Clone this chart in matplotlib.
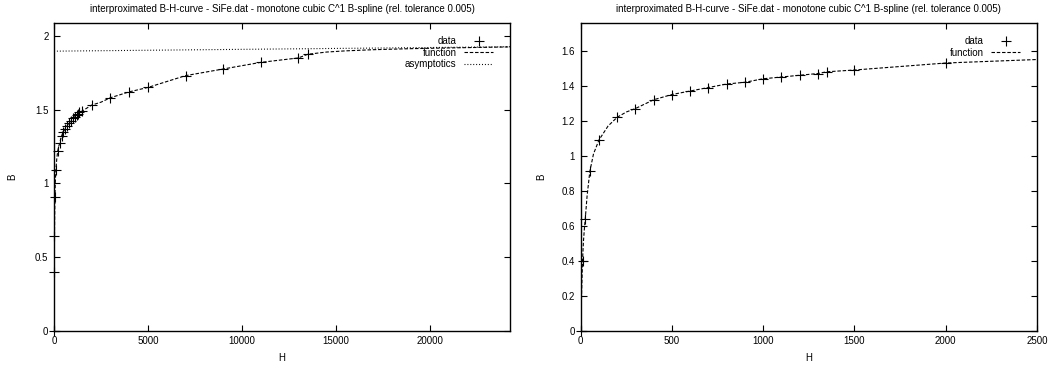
import numpy as np
import matplotlib
matplotlib.use('Agg')
import matplotlib.pyplot as plt

plt.rcParams['font.family'] = ['Liberation Sans', 'DejaVu Sans']
plt.rcParams['font.size'] = 7
plt.rcParams['lines.scale_dashes'] = False

# measured data points
H_data = [0, 10, 25, 50, 100, 200, 300, 400, 500, 600, 700, 800, 900, 1000,
          1100, 1200, 1300, 1350, 1500, 2000, 3000, 4000, 5000, 7000, 9000,
          11000, 13000, 13500]
B_data = [0.0, 0.40, 0.64, 0.91, 1.09, 1.22, 1.27, 1.32, 1.35, 1.37, 1.39, 1.41,
          1.42, 1.44, 1.45, 1.46, 1.47, 1.48, 1.49, 1.53, 1.58, 1.62, 1.65, 1.73,
          1.775, 1.82, 1.85, 1.875]

# spline curve, values
H_fun = [0, 3, 6, 10, 15, 20, 25, 35, 50, 70, 100, 150, 200, 250, 300, 400, 500,
         600, 700, 800, 900, 1000, 1100, 1200, 1300, 1350, 1500, 1750, 2000, 2250,
         2500, 3000, 4000, 5000, 7000, 9000, 11000, 13000, 13500, 14500, 15500,
         17000, 19000, 21000, 24300]
B_fun = [0.0, 0.13, 0.26, 0.40, 0.51, 0.58, 0.64, 0.77, 0.91, 1.01, 1.09, 1.17,
         1.22, 1.25, 1.27, 1.32, 1.35, 1.37, 1.39, 1.41, 1.42, 1.44, 1.45, 1.46,
         1.47, 1.48, 1.49, 1.51, 1.53, 1.54, 1.55, 1.58, 1.62, 1.65, 1.73, 1.775,
         1.82, 1.85, 1.875, 1.89, 1.898, 1.906, 1.913, 1.918, 1.925]

# asymptote line
H_asy = [0, 24300]
B_asy = [1.896, 1.926]

title = 'interproximated B-H-curve - SiFe.dat - monotone cubic C^1 B-spline (rel. tolerance 0.005)'

fig = plt.figure(figsize=(10.52, 3.69), dpi=100)
W, Ht = 1052, 369
ax1 = fig.add_axes([54 / W, (Ht - 330.7) / Ht, 456 / W, 307.4 / Ht])
ax2 = fig.add_axes([580.7 / W, (Ht - 330.7) / Ht, 456.3 / W, 307.4 / Ht])


def style(ax, ypad):
    ax.tick_params(direction='in', length=4, width=0.8, top=True, right=True,
                   labelsize=7, pad=4)
    for s in ax.spines.values():
        s.set_linewidth(1.0)
    ax.set_title(title, fontsize=7, pad=8)
    ax.set_xlabel('H', fontsize=7, labelpad=5)
    ax.set_ylabel('B', fontsize=7, labelpad=ypad)


# left plot
ax1.plot(H_data, B_data, '+', color='black', ms=7, mew=0.8, label='data',
         zorder=3, clip_on=False)
ax1.plot(H_fun, B_fun, color='black', lw=0.8, dashes=(2.5, 1.3), label='function')
ax1.plot(H_asy, B_asy, color='black', lw=0.8, dashes=(0.7, 1.4), label='asymptotics')
ax1.set_xlim(0, 24260)
ax1.set_ylim(0, 2.085)
ax1.set_xticks([0, 5000, 10000, 15000, 20000])
ax1.set_yticks([0, 0.5, 1, 1.5, 2])
ax1.set_yticklabels(['0', '0.5', '1', '1.5', '2'])
style(ax1, 13)
ax1.legend(loc='upper right', frameon=False, markerfirst=False, fontsize=7,
           handlelength=3, handletextpad=0.8, labelspacing=0.15,
           borderaxespad=0.6, bbox_to_anchor=(0.985, 0.99))

# right plot
ax2.plot(H_data, B_data, '+', color='black', ms=7, mew=0.8, label='data',
         zorder=3, clip_on=False)
ax2.plot(H_fun, B_fun, color='black', lw=0.8, dashes=(2.5, 1.3), label='function')
ax2.set_xlim(0, 2500)
ax2.set_ylim(0, 1.757)
ax2.set_xticks([0, 500, 1000, 1500, 2000, 2500])
ax2.set_yticks([0, 0.2, 0.4, 0.6, 0.8, 1, 1.2, 1.4, 1.6])
ax2.set_yticklabels(['0', '0.2', '0.4', '0.6', '0.8', '1', '1.2', '1.4', '1.6'])
style(ax2, 11)
ax2.legend(loc='upper right', frameon=False, markerfirst=False, fontsize=7,
           handlelength=3, handletextpad=0.8, labelspacing=0.15,
           borderaxespad=0.6, bbox_to_anchor=(0.985, 0.99))

fig.savefig('out.png', dpi=100)
